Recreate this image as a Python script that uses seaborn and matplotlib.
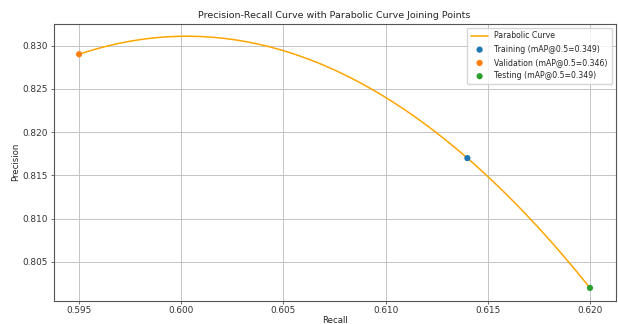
import numpy as np
import pandas as pd
import matplotlib
matplotlib.use("Agg")
import matplotlib.pyplot as plt
import seaborn as sns

# data
names = ["Training", "Validation", "Testing"]
recall = [0.614, 0.595, 0.620]
precision = [0.817, 0.829, 0.802]
map50 = [0.349, 0.346, 0.349]
point_colors = ["#1f77b4", "#ff7f0e", "#2ca02c"]

sns.set_style("whitegrid", {"axes.edgecolor": "#555555", "grid.color": "#c4c4c4"})
plt.rcParams["font.family"] = ["DejaVu Sans"]

# parabola through the three points
coef = np.polyfit(recall, precision, 2)
xs = np.linspace(min(recall), max(recall), 200)
curve = pd.DataFrame({"Recall": xs, "Precision": np.polyval(coef, xs)})

fig = plt.figure(figsize=(6.18, 3.24), dpi=100)
ax = fig.add_axes([0.0866, 0.0725, 0.9094, 0.8545])

sns.lineplot(data=curve, x="Recall", y="Precision", color="orange", linewidth=1.1,
             label="Parabolic Curve", ax=ax)
for n, r, p, m, c in zip(names, recall, precision, map50, point_colors):
    sns.scatterplot(x=[r], y=[p], color=c, s=20, edgecolor="none", zorder=3,
                    label=f"{n} (mAP@0.5={m:.3f})", ax=ax)

ax.set_xticks([0.595, 0.600, 0.605, 0.610, 0.615, 0.620])
ax.set_yticks([0.805, 0.810, 0.815, 0.820, 0.825, 0.830])
ax.xaxis.set_major_formatter(matplotlib.ticker.FormatStrFormatter("%.3f"))
ax.yaxis.set_major_formatter(matplotlib.ticker.FormatStrFormatter("%.3f"))
ax.tick_params(labelsize=6.4, length=2, width=0.5, colors="#333333", pad=2)
ax.tick_params(axis="both", which="both", bottom=True, left=True)
for s in ax.spines.values():
    s.set_linewidth(0.8)
ax.grid(True, linewidth=0.7)

ax.set_title("Precision-Recall Curve with Parabolic Curve Joining Points", fontsize=6.8, pad=4)
ax.set_xlabel("Recall", fontsize=6.2, labelpad=1)
ax.set_ylabel("Precision", fontsize=6.2, labelpad=2)
ax.legend(loc="upper right", fontsize=5.6, frameon=True, framealpha=0.8,
          handlelength=2.2, borderpad=0.5, labelspacing=0.55)

fig.savefig("out.png", dpi=100)
